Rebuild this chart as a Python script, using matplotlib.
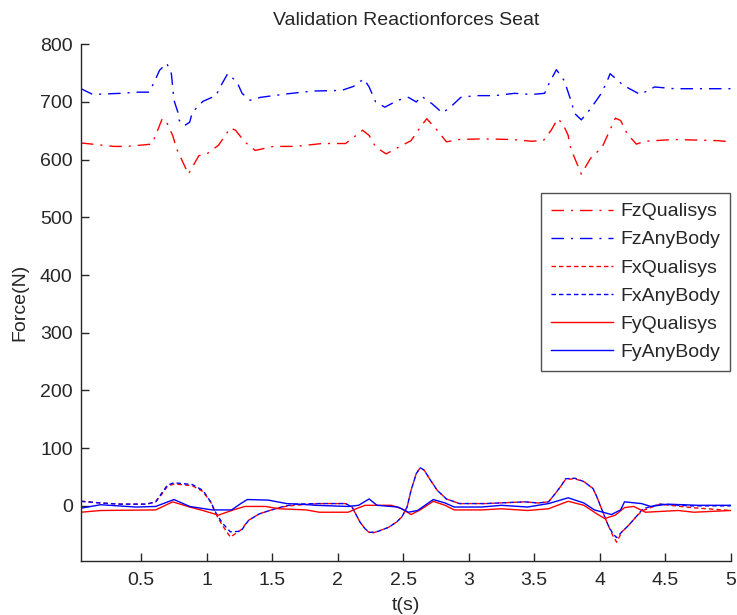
import matplotlib
matplotlib.use("Agg")
import matplotlib.pyplot as plt

plt.rcParams['font.family'] = ['Liberation Sans', 'DejaVu Sans']

# Vertical seat force (Fz)
t_fz_any = [0.04, 0.13, 0.34, 0.47, 0.56, 0.60, 0.64, 0.695, 0.73, 0.75, 0.78, 0.79, 0.83, 0.87, 0.89,
            0.97, 1.07, 1.11, 1.16, 1.23, 1.27, 1.33, 1.41, 1.61, 1.81, 2.03, 2.12, 2.20, 2.24, 2.29,
            2.36, 2.46, 2.54, 2.60, 2.64, 2.72, 2.80, 2.86, 2.94, 3.05, 3.20, 3.35, 3.48, 3.58, 3.62,
            3.67, 3.73, 3.78, 3.81, 3.86, 3.93, 4.01, 4.05, 4.08, 4.18, 4.31, 4.42, 4.57, 4.75, 5.0]
fz_any = [723, 713, 715, 717, 717, 735, 755, 767, 749, 703, 682, 668, 659, 665, 682,
          701, 711, 729, 749, 735, 715, 703, 708, 714, 719, 720, 727, 740, 726, 700,
          691, 703, 708, 700, 710, 697, 681, 691, 708, 711, 711, 715, 713, 715, 735,
          756, 737, 703, 680, 669, 688, 714, 732, 749, 729, 713, 726, 723, 723, 723]

t_fz_qual = [0.04, 0.29, 0.39, 0.49, 0.58, 0.61, 0.66, 0.70, 0.74, 0.77, 0.86, 0.94, 1.00, 1.09, 1.18,
             1.22, 1.29, 1.37, 1.51, 1.68, 1.88, 2.06, 2.14, 2.19, 2.24, 2.29, 2.37, 2.46, 2.56, 2.63,
             2.68, 2.76, 2.83, 2.93, 3.10, 3.33, 3.48, 3.57, 3.63, 3.68, 3.72, 3.76, 3.78, 3.86, 3.93,
             4.02, 4.06, 4.12, 4.16, 4.21, 4.28, 4.35, 4.57, 4.90, 5.0]
fz_qual = [629, 623, 623, 625, 627, 642, 671, 662, 642, 619, 575, 607, 610, 625, 655,
           651, 631, 616, 623, 623, 628, 628, 642, 651, 642, 622, 610, 621, 633, 656,
           671, 651, 631, 635, 636, 635, 632, 633, 651, 671, 662, 642, 619, 575, 602,
           622, 642, 672, 668, 645, 627, 632, 635, 633, 631]

# Fore-aft seat force (Fx)
t_fx = [0.04, 0.19, 0.34, 0.54, 0.61, 0.65, 0.70, 0.75, 0.89, 0.97, 1.03, 1.07, 1.12, 1.18, 1.26,
        1.32, 1.40, 1.48, 1.57, 1.67, 1.86, 2.06, 2.11, 2.17, 2.21, 2.25, 2.31, 2.39, 2.45, 2.49,
        2.53, 2.56, 2.60, 2.63, 2.66, 2.71, 2.76, 2.83, 2.93, 3.13, 3.43, 3.53, 3.61, 3.66, 3.71,
        3.74, 3.81, 3.88, 3.95, 3.98, 4.02, 4.06, 4.10, 4.13, 4.17, 4.22, 4.29, 4.33, 4.46, 4.70, 5.0]
fx_qual = [8, 5, 3, 3, 7, 18, 34, 38, 35, 25, 7, -14, -34, -54, -42,
           -25, -14, -8, -2, 1, 4, 4, -2, -28, -40, -48, -44, -37, -28, -19,
           -2, 27, 56, 66, 62, 44, 27, 12, 4, 4, 7, 5, 7, 21, 36,
           46, 47, 42, 30, 15, -8, -31, -51, -63, -45, -34, -16, -8, 3, -3, -8]
fx_any = [8, 5, 3, 3, 7, 20, 36, 40, 37, 27, 7, -12, -30, -45, -44,
          -25, -14, -8, -2, 3, 4, 4, -2, -28, -40, -46, -44, -37, -28, -19,
          -2, 27, 56, 66, 62, 44, 27, 12, 4, 4, 7, 5, 7, 21, 36,
          47, 48, 42, 30, 15, -8, -31, -48, -55, -45, -34, -16, -5, 3, 0, 0]

# Lateral seat force (Fy)
t_fy_qual = [0.04, 0.19, 0.61, 0.74, 0.87, 0.97, 1.09, 1.19, 1.29, 1.45, 1.55, 1.76, 1.86, 2.08, 2.14,
             2.21, 2.41, 2.49, 2.56, 2.63, 2.73, 2.82, 2.89, 3.10, 3.25, 3.45, 3.61, 3.76, 3.88, 3.98,
             4.04, 4.12, 4.19, 4.26, 4.35, 4.60, 4.72, 5.0]
fy_qual = [-11, -8, -7, 7, -2, -8, -16, -8, -1, -1, -5, -7, -11, -11, -5,
           1, 1, -5, -15, -7, 8, 1, -7, -7, -5, -8, -5, 8, 1, -14,
           -22, -16, -3, -1, -11, -8, -11, -8]

t_fy_any = [0.04, 0.19, 0.46, 0.61, 0.75, 0.87, 1.04, 1.19, 1.26, 1.31, 1.47, 1.61, 1.78, 1.83, 2.08,
            2.16, 2.24, 2.30, 2.46, 2.54, 2.61, 2.73, 2.82, 2.89, 3.10, 3.25, 3.45, 3.61, 3.76, 3.88,
            3.96, 4.09, 4.16, 4.19, 4.32, 4.39, 4.52, 4.75, 5.0]
fy_any = [-4, 2, -2, -1, 11, -1, -7, -7, 4, 11, 10, 4, 2, 1, -1,
          1, 12, 1, -2, -11, -8, 11, 5, -2, -2, 1, -2, 4, 14, 5,
          -7, -15, -7, 7, 4, -1, 3, 1, 1]

x_ticks = [0.5, 1, 1.5, 2, 2.5, 3, 3.5, 4, 4.5, 5]
x_tick_labels = ['0.5', '1', '1.5', '2', '2.5', '3', '3.5', '4', '4.5', '5']
y_ticks = [0, 100, 200, 300, 400, 500, 600, 700, 800]

RED = '#ff0000'
BLUE = '#0000ff'
DASHDOT = (0, (9, 5, 1.5, 5))
DOTTED = (0, (3.2, 2.2))
INK = '#262626'

fig = plt.figure(figsize=(7.37, 6.15), dpi=100)
ax = fig.add_axes([0.1099, 0.0883, 0.8814, 0.8397])

ax.plot(t_fz_qual, fz_qual, color=RED, linestyle=DASHDOT, lw=1.0, label='FzQualisys')
ax.plot(t_fz_any, fz_any, color=BLUE, linestyle=DASHDOT, lw=1.0, label='FzAnyBody')
ax.plot(t_fx, fx_qual, color=RED, linestyle=DOTTED, lw=1.0, label='FxQualisys')
ax.plot(t_fx, fx_any, color=BLUE, linestyle=DOTTED, lw=1.0, label='FxAnyBody')
ax.plot(t_fy_qual, fy_qual, color=RED, linestyle='-', lw=1.0, label='FyQualisys')
ax.plot(t_fy_any, fy_any, color=BLUE, linestyle='-', lw=1.0, label='FyAnyBody')

ax.set_xlim(0.04, 5)
ax.set_ylim(-95, 800)
ax.set_xticks(x_ticks)
ax.set_xticklabels(x_tick_labels)
ax.set_yticks(y_ticks)

for side in ('top', 'right'):
    ax.spines[side].set_visible(False)
for side in ('left', 'bottom'):
    ax.spines[side].set_color(INK)
    ax.spines[side].set_linewidth(1.0)

ax.tick_params(direction='in', length=6, width=1.0, colors=INK,
               labelsize=14, labelcolor=INK)
ax.tick_params(axis='x', pad=8)
ax.tick_params(axis='y', pad=6)

ax.set_title('Validation Reactionforces Seat', fontsize=14, color=INK, pad=14)
ax.set_xlabel('t(s)', fontsize=14, color=INK, labelpad=6)
ax.set_ylabel('Force(N)', fontsize=14, color=INK, labelpad=8)

leg = ax.legend(loc='upper right', bbox_to_anchor=(0.9995, 0.712), borderaxespad=0,
                fontsize=14, frameon=True, fancybox=False, handlelength=3.2,
                handletextpad=0.4, labelspacing=0.54, borderpad=0.5)
leg.get_frame().set_edgecolor(INK)
leg.get_frame().set_linewidth(1.0)
for txt in leg.get_texts():
    txt.set_color(INK)

fig.savefig('out.png', dpi=100)
